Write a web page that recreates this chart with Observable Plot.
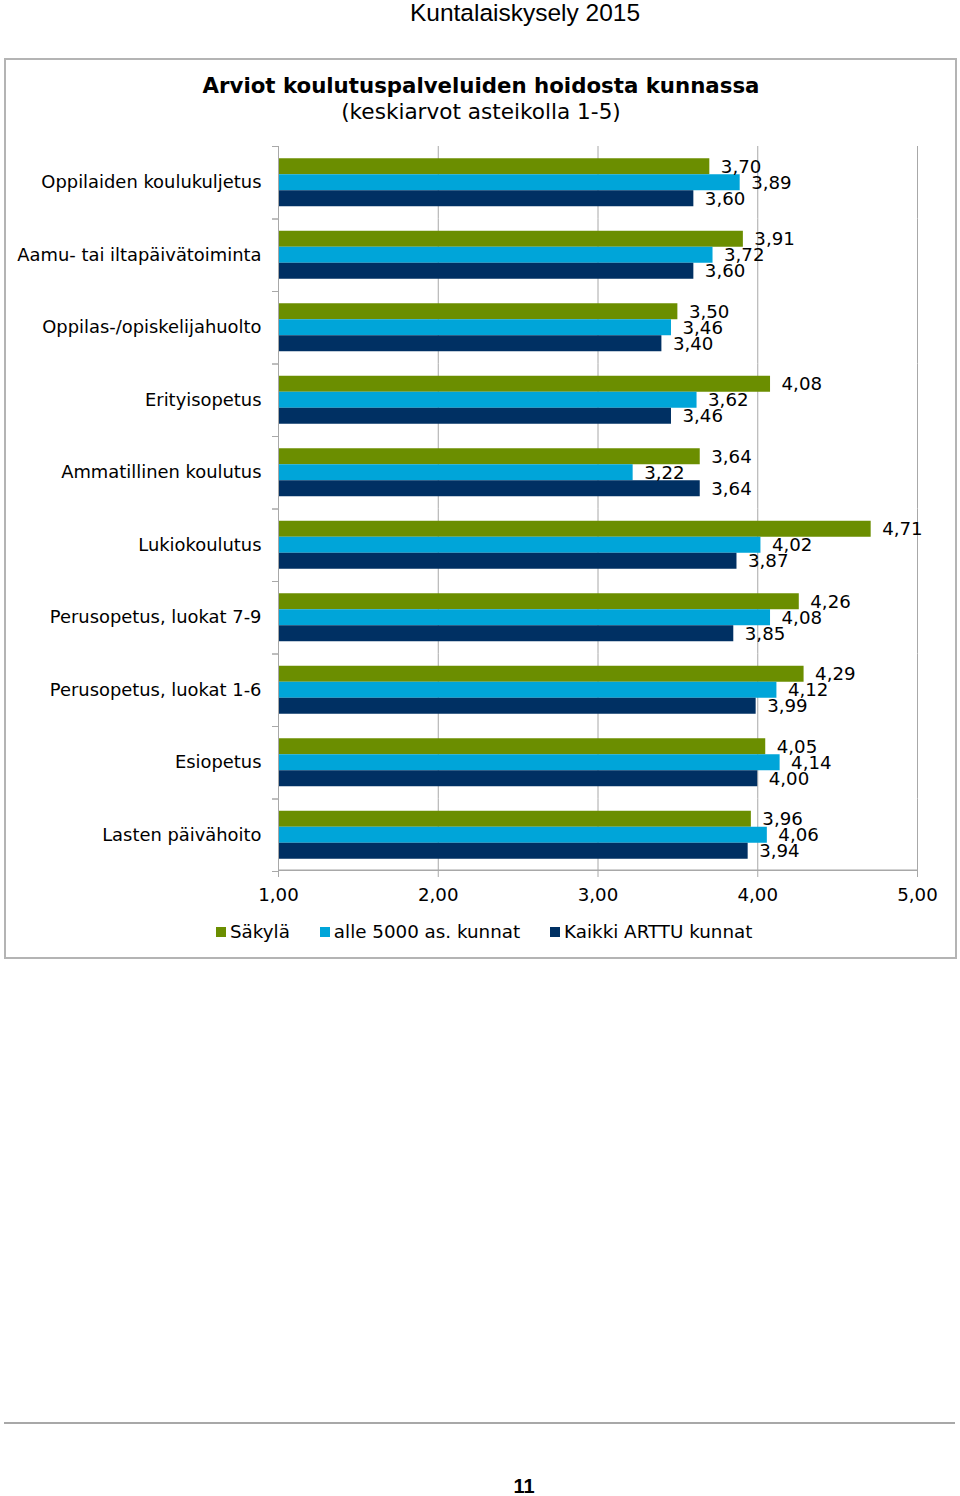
<!DOCTYPE html>
<html>
<head>
<meta charset="utf-8">
<script src="https://cdn.jsdelivr.net/npm/d3@7"></script>
<script src="https://cdn.jsdelivr.net/npm/@observablehq/plot@0.6"></script>
<style>
  html, body { margin: 0; padding: 0; background: #fff; }
  #page { position: relative; width: 960px; height: 1496px; overflow: hidden; font-family: "DejaVu Sans", Verdana, sans-serif; color: #000; }
  .abs { position: absolute; }
  #header { left: 525px; top: 0px; transform: translateX(-50%); font-family: "Liberation Sans Narrow", "Arial Narrow", "Liberation Sans", sans-serif; font-size: 24.5px; line-height: 25px; white-space: nowrap; }
  #box { left: 4px; top: 58px; width: 953px; height: 901px; box-sizing: border-box; border: 2px solid #B4B4B4; }
  #title { left: 0; width: 962px; top: 73px; text-align: center; font-weight: bold; font-size: 21.3px; line-height: 26px; white-space: nowrap; }
  #subtitle { left: 0; width: 962px; top: 99px; text-align: center; font-size: 21.6px; line-height: 26px; white-space: nowrap; }
  #chart { left: 0; top: 140px; }
  #legend { left: 216px; top: 920px; display: flex; align-items: center; font-size: 18.3px; line-height: 24px; white-space: nowrap; }
  .item { display: flex; align-items: center; margin-right: 30px; }
  .sw { width: 10px; height: 10px; margin-right: 4px; }
  #footline { left: 4px; top: 1422px; width: 951px; height: 2px; background: #A8A8A8; }
  #pagenum { left: 524px; top: 1477px; transform: translateX(-50%); font-family: "Liberation Sans Narrow", "Arial Narrow", sans-serif; font-weight: bold; font-size: 20px; line-height: 19px; }
</style>
</head>
<body>
<div id="page">
  <div id="header" class="abs">Kuntalaiskysely 2015</div>
  <div id="box" class="abs"></div>
  <div id="title" class="abs">Arviot koulutuspalveluiden hoidosta kunnassa</div>
  <div id="subtitle" class="abs">(keskiarvot asteikolla 1-5)</div>
  <div id="chart" class="abs"></div>
  <div id="legend" class="abs"></div>
  <div id="footline" class="abs"></div>
  <div id="pagenum" class="abs">11</div>
</div>
<script>
const categories = [
  "Oppilaiden koulukuljetus",
  "Aamu- tai iltapäivätoiminta",
  "Oppilas-/opiskelijahuolto",
  "Erityisopetus",
  "Ammatillinen koulutus",
  "Lukiokoulutus",
  "Perusopetus, luokat 7-9",
  "Perusopetus, luokat 1-6",
  "Esiopetus",
  "Lasten päivähoito"
];
const sakyla   = [3.70, 3.91, 3.50, 4.08, 3.64, 4.71, 4.26, 4.29, 4.05, 3.96];
const alle5000 = [3.89, 3.72, 3.46, 3.62, 3.22, 4.02, 4.08, 4.12, 4.14, 4.06];
const kaikki   = [3.60, 3.60, 3.40, 3.46, 3.64, 3.87, 3.85, 3.99, 4.00, 3.94];
const seriesNames = ["Säkylä", "alle 5000 as. kunnat", "Kaikki ARTTU kunnat"];
const seriesColors = ["#6B8E00", "#00A5D9", "#003063"];
const xTicks = [1, 2, 3, 4, 5];
const xMin = 1, xMax = 5;

const seriesValues = [sakyla, alle5000, kaikki];
const rows = categories.flatMap((c, i) =>
  seriesValues.map((arr, k) => ({category: c, series: seriesNames[k], value: arr[i]}))
);
const fmt = v => v.toFixed(2).replace(".", ",");

const W = 960, H = 771, mT = 6, mB = 40, mL = 278, mR = 43;
const facetH = (H - mT - mB) / categories.length;
const gridColor = "#A8A8A8";
const fs = 18.2;
const catFs = 17.9;

const chart = Plot.plot({
  width: W, height: H,
  marginTop: mT, marginBottom: mB, marginLeft: mL, marginRight: mR,
  style: {fontFamily: "'DejaVu Sans', Verdana, sans-serif", fontSize: fs + "px", color: "#000", background: "transparent", overflow: "visible"},
  x: {domain: [xMin, xMax], axis: null},
  y: {domain: seriesNames, paddingInner: 0, paddingOuter: 0.766, round: false, axis: null},
  fy: {domain: categories, padding: 0, round: false, axis: null},
  color: {domain: seriesNames, range: seriesColors},
  marks: [
    Plot.gridX(xTicks, {stroke: gridColor, strokeOpacity: 1}),
    Plot.barX(rows, {fy: "category", y: "series", x1: () => xMin, x2: "value", fill: "series"}),
    Plot.text(rows, {fy: "category", y: "series", x: "value", text: d => fmt(d.value), dx: 11, textAnchor: "start", fill: "#000", fontSize: fs}),
    Plot.ruleX([xMin], {stroke: gridColor}),
    Plot.barX([categories[categories.length - 1]], {fy: d => d, x1: () => xMin, x2: () => xMax, fill: gridColor, insetTop: facetH - 1.5}),
    Plot.axisFy({anchor: "left", tickSize: 0, tickPadding: 17, fontSize: catFs, label: null}),
    Plot.axisFy({anchor: "left", tickSize: 6, tickFormat: () => "", label: null, dy: -facetH / 2, stroke: gridColor}),
    Plot.axisFy([categories[categories.length - 1]], {anchor: "left", tickSize: 6, tickFormat: () => "", label: null, dy: facetH / 2, stroke: gridColor}),
    Plot.axisX(xTicks, {anchor: "bottom", tickSize: 6, tickPadding: 11, tickFormat: fmt, label: null, stroke: gridColor, fill: "#000", fontSize: fs})
  ]
});
document.getElementById("chart").appendChild(chart);

const legend = document.getElementById("legend");
seriesNames.forEach((name, k) => {
  const item = document.createElement("div");
  item.className = "item";
  const sw = document.createElement("div");
  sw.className = "sw";
  sw.style.background = seriesColors[k];
  const t = document.createElement("span");
  t.textContent = name;
  item.appendChild(sw);
  item.appendChild(t);
  legend.appendChild(item);
});
</script>
</body>
</html>
